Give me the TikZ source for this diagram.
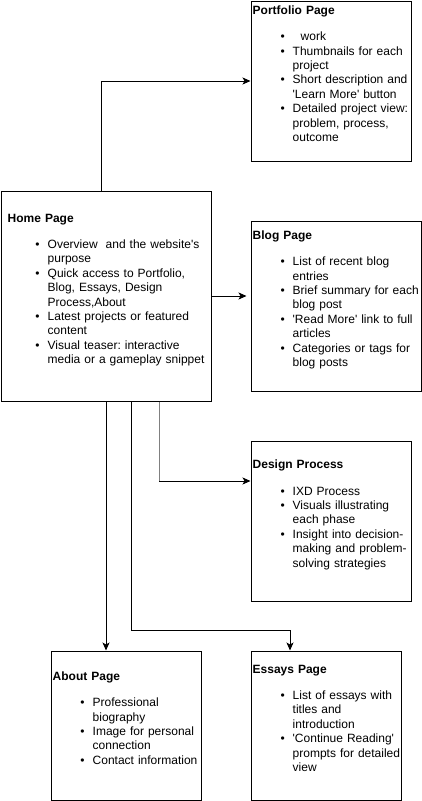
\documentclass[tikz,border=0pt]{standalone}
\usepackage{fontspec}
\setmainfont{Liberation Sans}
\usepackage{enumitem}
\usetikzlibrary{arrows.meta}
\frenchspacing
\setlist[itemize]{nosep,leftmargin=40pt,labelsep=8pt,label=\textbullet}
\tikzset{
    pagebox/.style={draw,line width=1pt,anchor=north west,inner sep=0pt},
    pagetext/.style={inner sep=0pt,anchor=west,align=left,text width=180pt,font=\fontsize{12pt}{14.4pt}\selectfont},
    link/.style={line width=1pt,-{Stealth[length=8pt,width=7pt,inset=2pt]}}
}
\newcommand{\qs}{\textquotesingle}
\begin{document}
\begin{tikzpicture}[x=1pt,y=-1pt]
        \useasboundingbox (0,0) rectangle (421,801);
        \node[pagebox,minimum width=160pt,minimum height=160pt] (portfolio) at (250.5,0.5) {};
        \node[pagebox,minimum width=210pt,minimum height=210pt] (home) at (0.5,190.5) {};
        \node[pagebox,minimum width=170pt,minimum height=170pt] (blog) at (250.5,220.5) {};
        \node[pagebox,minimum width=160pt,minimum height=160pt] (design) at (250.5,440.5) {};
        \node[pagebox,minimum width=150pt,minimum height=149pt] (about) at (50.5,650.5) {};
        \node[pagebox,minimum width=150pt,minimum height=149pt] (essays) at (250.5,650.5) {};
        \node[pagetext] (portfoliotext) at ([xshift=2pt,yshift=6pt]portfolio.west) {%
            \strut\textbf{Portfolio Page}\par\vspace{12pt}
            \begin{itemize}
                \item ~~work
                \item Thumbnails for each\\project
                \item Short description and\\\qs Learn More\qs{} button
                \item Detailed project view:\\problem, process,\\outcome\strut
            \end{itemize}};
        \node[pagetext,text width=220pt] (hometext) at ([xshift=7pt,yshift=6pt]home.west) {%
            \strut\textbf{Home Page}\par\vspace{12pt}
            \begin{itemize}
                \item Overview~ and the website\qs s\\purpose
                \item Quick access to Portfolio,\\Blog, Essays, Design\\Process,About
                \item Latest projects or featured\\content
                \item Visual teaser: interactive\\media or a gameplay snippet\strut
            \end{itemize}};
        \node[pagetext] (blogtext) at ([xshift=2pt,yshift=6pt]blog.west) {%
            \strut\textbf{Blog Page}\par\vspace{12pt}
            \begin{itemize}
                \item List of recent blog\\entries
                \item Brief summary for each\\blog post
                \item \qs Read More\qs{} link to full\\articles
                \item Categories or tags for\\blog posts\strut
            \end{itemize}};
        \node[pagetext] (designtext) at ([xshift=2pt,yshift=6pt]design.west) {%
            \strut\textbf{Design Process}\par\vspace{12pt}
            \begin{itemize}
                \item IXD Process
                \item Visuals illustrating\\each phase
                \item Insight into decision-\\making and problem-\\solving strategies\strut
            \end{itemize}};
        \node[pagetext] (abouttext) at ([xshift=2pt,yshift=6pt]about.west) {%
            \strut\textbf{About Page}\par\vspace{12pt}
            \begin{itemize}
                \item Professional\\biography
                \item Image for personal\\connection
                \item Contact information\strut
            \end{itemize}};
        \node[pagetext] (essaystext) at ([xshift=2pt,yshift=6pt]essays.west) {%
            \strut\textbf{Essays Page}\par\vspace{12pt}
            \begin{itemize}
                \item List of essays with\\titles and\\introduction
                \item \qs Continue Reading\qs\\prompts for detailed\\view\strut
            \end{itemize}};
        \coordinate (designstart) at ([xshift=53pt]home.south);
        \coordinate (designend) at ([yshift=40pt]design.west);
        \coordinate (designturn) at (designstart |- designend);
        \coordinate (essaysstart) at ([xshift=25pt]home.south);
        \coordinate (essaysend) at ([xshift=-36pt]essays.north);
        \coordinate (essaysturn) at ([yshift=20pt]essaysend);
        \draw[link] ([xshift=-5pt]home.north) |- (portfolio.west);
        \draw[link,shorten >=4pt] (home.east) -- (home.east -| blog.west);
        \draw[line width=1pt,gray] (designstart) -- (designturn);
        \draw[link] (designturn) -- (designend);
        \draw[link] (essaysstart) |- (essaysturn) -- (essaysend);
        \draw[link] (home.south) -- (home.south |- about.north);
    \end{tikzpicture}
\end{document}
